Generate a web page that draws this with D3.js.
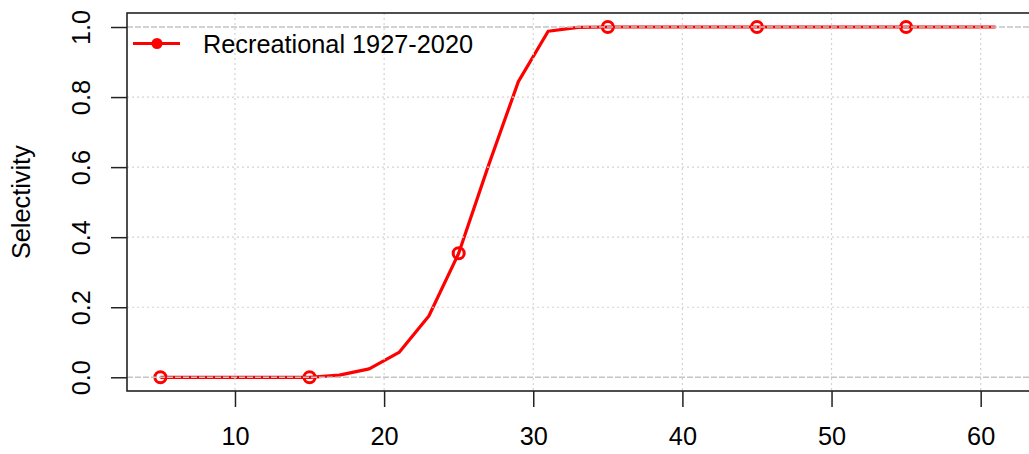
<!DOCTYPE html>
<html>
<head>
<meta charset="utf-8">
<script src="https://cdn.jsdelivr.net/npm/d3@7"></script>
<style>
  body { margin: 0; background: #fff; }
  text { font-family: "Liberation Sans", Arial, sans-serif; }
</style>
</head>
<body>
<div id="container"></div>
<script>
// chart data
let lengths = [5, 7, 9, 11, 13, 15, 17, 19, 21, 23, 25, 27, 29, 31, 33, 35, 37, 39, 41, 43, 45, 47, 49, 51, 53, 55, 57, 59, 61];
let selectivity = [0, 0, 0, 0, 0, 0, 0.006, 0.024, 0.071, 0.175, 0.354, 0.605, 0.844, 0.988, 0.999, 1, 1, 1, 1, 1, 1, 1, 1, 1, 1, 1, 1, 1, 1];
let markerLengths = [5, 15, 25, 35, 45, 55];
let xTicks = [10, 20, 30, 40, 50, 60];
let yTicks = [0, 0.2, 0.4, 0.6, 0.8, 1.0];
let seriesName = "Recreational 1927-2020";
let yLabel = "Selectivity";

let w = 1029;
let h = 454;
let red = "#ff0000";
let fontSize = 25.3;

let svg = d3.select("#container")
  .append("svg")
  .attr("width", w)
  .attr("height", h);

// R style 4% padding on both axes
let x = d3.scaleLinear().domain([2.76, 63.24]).range([127, 1029]);
let y = d3.scaleLinear().domain([-0.04, 1.04]).range([391.3, 13]);

let points = lengths.map(function(d, i) { return { x: d, y: selectivity[i] }; });

// data line
let line = d3.line()
  .x(function(d) { return x(d.x); })
  .y(function(d) { return y(d.y); });

svg.append("path")
  .datum(points)
  .attr("d", line)
  .attr("fill", "none")
  .attr("stroke", red)
  .attr("stroke-width", 3.2)
  .attr("stroke-linejoin", "round");

// open circles every fifth point
svg.selectAll("circle.marker")
  .data(points.filter(function(d) { return markerLengths.indexOf(d.x) >= 0; }))
  .enter()
  .append("circle")
  .attr("class", "marker")
  .attr("cx", function(d) { return x(d.x); })
  .attr("cy", function(d) { return y(d.y); })
  .attr("r", 5.5)
  .attr("fill", "none")
  .attr("stroke", red)
  .attr("stroke-width", 3);

// grid is drawn on top of the data, like the original
let grid = svg.append("g");
grid.selectAll("line.vgrid")
  .data(xTicks)
  .enter()
  .append("line")
  .attr("x1", function(d) { return x(d); })
  .attr("x2", function(d) { return x(d); })
  .attr("y1", 13)
  .attr("y2", 391)
  .attr("stroke", "#d3d3d3")
  .attr("stroke-width", 1.2)
  .attr("stroke-dasharray", "2,3");

grid.selectAll("line.hgrid")
  .data(yTicks.filter(function(d) { return d > 0 && d < 1; }))
  .enter()
  .append("line")
  .attr("x1", 127)
  .attr("x2", 1029)
  .attr("y1", function(d) { return y(d); })
  .attr("y2", function(d) { return y(d); })
  .attr("stroke", "#d3d3d3")
  .attr("stroke-width", 1.2)
  .attr("stroke-dasharray", "2,3");

// reference lines at 0 and 1
grid.selectAll("line.ref")
  .data([0, 1])
  .enter()
  .append("line")
  .attr("x1", 127)
  .attr("x2", 1029)
  .attr("y1", function(d) { return y(d); })
  .attr("y2", function(d) { return y(d); })
  .attr("stroke", "#c4c4c4")
  .attr("stroke-width", 1.5)
  .attr("stroke-dasharray", "6,2");

// plot box
svg.append("rect")
  .attr("x", 127)
  .attr("y", 13)
  .attr("width", 1029 - 127 + 5)
  .attr("height", 391 - 13)
  .attr("fill", "none")
  .attr("stroke", "#222")
  .attr("stroke-width", 1.6);

// x axis
let xAxis = d3.axisBottom(x).tickValues(xTicks).tickSize(16).tickPadding(20).tickFormat(d3.format("d"));
let gx = svg.append("g")
  .attr("transform", "translate(0,391)")
  .call(xAxis);
gx.select(".domain").remove();
gx.selectAll("line").attr("stroke", "#222").attr("stroke-width", 1.5);
gx.selectAll("text")
  .attr("font-size", fontSize)
  .attr("fill", "#000")
  .attr("font-family", "Liberation Sans, Arial, sans-serif");

// y axis with rotated labels
let yAxis = d3.axisLeft(y).tickValues(yTicks).tickSize(16).tickFormat(d3.format(".1f"));
let gy = svg.append("g")
  .attr("transform", "translate(127,0)")
  .call(yAxis);
gy.select(".domain").remove();
gy.selectAll("line").attr("stroke", "#222").attr("stroke-width", 1.5);
gy.selectAll("text")
  .attr("x", null)
  .attr("dy", null)
  .attr("text-anchor", "middle")
  .attr("transform", "translate(-37,0) rotate(-90)")
  .attr("font-size", fontSize)
  .attr("fill", "#000")
  .attr("font-family", "Liberation Sans, Arial, sans-serif");

// y label
svg.append("text")
  .attr("transform", "translate(30," + y(0.5) + ") rotate(-90)")
  .attr("text-anchor", "middle")
  .attr("font-size", fontSize)
  .text(yLabel);

// legend
let legend = svg.append("g");
legend.append("line")
  .attr("x1", 133)
  .attr("x2", 180)
  .attr("y1", 43.5)
  .attr("y2", 43.5)
  .attr("stroke", red)
  .attr("stroke-width", 3.2);
legend.append("circle")
  .attr("cx", 157)
  .attr("cy", 43.5)
  .attr("r", 5.5)
  .attr("fill", red);
legend.append("text")
  .attr("x", 203)
  .attr("y", 53)
  .attr("font-size", fontSize)
  .text(seriesName);
</script>
</body>
</html>
